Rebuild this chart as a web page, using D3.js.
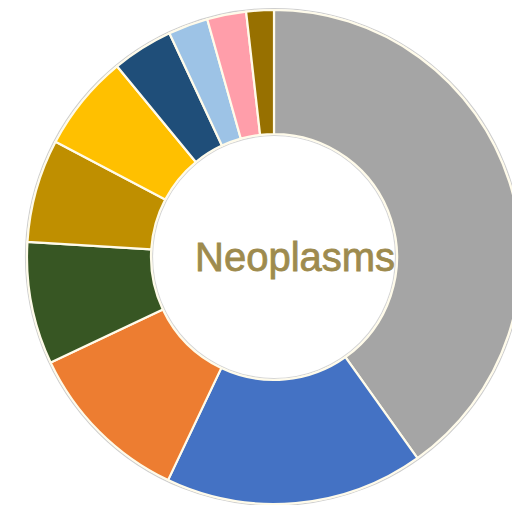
<!DOCTYPE html>
<html>
<head>
<meta charset="utf-8">
<script src="https://cdn.jsdelivr.net/npm/d3@7"></script>
<style>
  html, body { margin: 0; padding: 0; background: #fff; }
  svg { display: block; }
</style>
</head>
<body>
<svg id="chart" width="512" height="505"></svg>
<script>
// Share of each group (percent), clockwise from 12 o'clock
const categories = ["Group 1", "Group 2", "Group 3", "Group 4", "Group 5",
                    "Group 6", "Group 7", "Group 8", "Group 9", "Group 10"];
const values = [40.1, 16.9, 10.9, 8.0, 6.75, 6.3, 4.0, 2.6, 2.55, 1.8];
const colors = ["#A5A5A5", "#4472C4", "#ED7D31", "#375623", "#BF8F00",
                "#FFC000", "#1F4E79", "#9DC3E6", "#FF9EAA", "#977000"];
const centerLabel = "Neoplasms";

const svg = d3.select("#chart");
const cx = 274, cy = 257;
const outerR = 247, innerR = 123;

const data = categories.map((c, i) => ({ name: c, value: values[i], color: colors[i] }));

const pie = d3.pie().value(d => d.value).sort(null);
const arc = d3.arc().innerRadius(innerR).outerRadius(outerR);

const g = svg.append("g").attr("transform", `translate(${cx},${cy})`);

// faint rim around the ring
g.append("circle").attr("r", outerR + 1.5)
  .attr("fill", "none").attr("stroke", "#cfcfcf").attr("stroke-width", 1.2);
g.append("circle").attr("r", innerR - 1.5)
  .attr("fill", "none").attr("stroke", "#d6d6d6").attr("stroke-width", 1.2);

g.selectAll("path.slice")
  .data(pie(data))
  .join("path")
  .attr("class", "slice")
  .attr("d", arc)
  .attr("fill", d => d.data.color)
  .attr("stroke", "#fffbea")
  .attr("stroke-width", 2.2)
  .attr("stroke-linejoin", "round");

// label in the hole
g.append("text")
  .attr("x", -79)
  .attr("y", 14)
  .attr("font-family", "'Liberation Sans', Arial, sans-serif")
  .attr("font-size", 40)
  .attr("fill", "#9E8B4E")
  .attr("stroke", "#9E8B4E")
  .attr("stroke-width", 0.8)
  .text(centerLabel);
</script>
</body>
</html>
